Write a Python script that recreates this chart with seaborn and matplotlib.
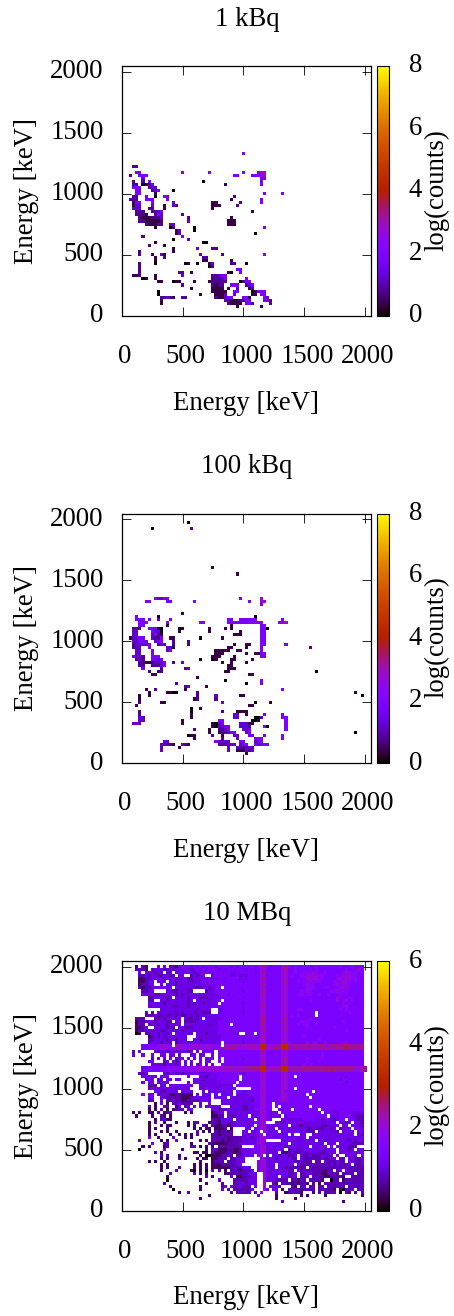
import numpy as np
import pandas as pd
import matplotlib
matplotlib.use("Agg")
import matplotlib.pyplot as plt
from matplotlib.colors import ListedColormap
from matplotlib.transforms import ScaledTranslation
import seaborn as sns

W, H = 454, 1316
titles = ["1 kBq", "100 kBq", "10 MBq"]
ticks_kev = [0, 500, 1000, 1500, 2000]
cbar_max = [8, 8, 6]
cbar_ticks = [[0, 2, 4, 6, 8], [0, 2, 4, 6, 8], [0, 2, 4, 6]]
axis_label = "Energy [keV]"
cbar_label = "log(counts)"
bin_kev = 25
xmax_kev = 2046

levels_sparse = {"0": 0.0, "1": 0.35, "2": 0.8, "3": 1.2, "4": 1.85, "5": 2.9}
levels_dense = {"0": 0.0, "1": 0.4, "2": 0.75, "3": 1.1, "4": 1.4, "5": 1.7,
                "6": 2.05, "7": 2.4, "8": 2.8, "9": 3.2}

# row | col:levels  (bin indices, bin width 25 keV)
cells_1kbq = """53|40:4
49|4:22
47|5:44 20:4 29:4 40:4 45:455
46|3:2 6:444 37:44 43:44455
45|7:3 46:44
44|4:2 7:2 9:4 27:0 46:4
43|4:22 7:01 9:24 34:1 46:4
42|4:444 9:233
41|5:44 10:234 17:0
40|5:44 11:1 47:4 53:4
39|4:22 8:4 11:0 14:44 37:2
38|3:222 8:444 15:4 36:1 46:4
37|4:144 10:4 17:3 30:11 39:2 46:4
36|4:133 10:3 14:1 17:32 30:111 38:2
35|4:333 9:22 14:1 30:1
34|5:222 10:223 13:4 43:1
33|5:2221 11:243 20:2
32|6:211 9:12223 22:2 36:1
31|6:22111112 22:3 35:111
30|8:211122 16:33 35:111
29|11:1 16:02 24:0 47:4
28|18:13 24:0
27|18:13 44:0
26|7:2 20:4
25|17:0 22:3
24|11:1 27:00
23|9:2 14:1
22|17:1 25:3 30:22
21|6:2 17:1
20|6:2 10:1 13:31 26:3 33:2 47:4
19|11:1 14:2 27:22
18|11:1 27:11 36:1
17|6:2 11:0 21:01 25:0 29:13 36:22 41:0
16|6:2 29:02
15|6:2 38:44
14|6:2 19:22 23:1 35:10 39:4
13|4:112 11:1 20:3 30:22344
12|7:01 11:1 30:22234 41:4
11|12:11 17:011 24:1 29:122222 39:0 40:244
10|20:2 30:2122 36:444 41:234
9|23:1 30:1111 35:1 38:3 42:12
8|12:0 30:11111 37:44 43:01 45:444
7|12:0 26:1 31:1113 37:3 43:11 46:44
6|13:22321 20:22 31:211344 40:441 47:43
5|13:1 34:321112244 47:442
4|13:1 35:21111 41:442 49:2
3|38:1 46:1""".split("\n")

cells_100kbq = """79|22:0
77|10:0 23:2
64|30:1
62|38:1
54|11:43344 39:4 46:5
53|8:44 15:44 24:4 42:4 46:55
52|46:4
49|20:1
48|5:4 12:0 44:0
47|5:444 9:4 12:3 16:4 35:44 39:444444 53:4
46|6:444 15:4 26:44 35:444444444445 52:455
45|6:44 15:1 36:1 46:44
44|4:222 9:44410 19:01 29:1 34:1 36:1 46:44 48:0
43|4:33 10:4330 19:1 29:1 39:1 46:44
42|4:33 10:3421 37:111 46:44
41|3:13344 10:3224 16:11 26:0 33:1 46:44
40|4:33443 11:344 17:2 22:2 46:44
39|4:233334 12:233 17:2 22:2 37:1 41:11 46:44 54:4
38|4:233 9:4 15:331 35:11 41:1 46:4 62:2
37|5:33 10:4 15:34 31:11111 38:11 46:4
36|5:33 10:4 31:111 41:1 44:11 46:44
35|4:4332 10:444 30:111 37:1 46:44
34|5:232 10:4434 26:0 30:01 36:11 43:1
33|6:22112 11:3334 17:2 20:3 33:1 36:1 41:1
32|6:22 10:22234 35:11
31|7:4 13:2 21:23 35:111
30|9:2 12:12 34:11 64:0
29|10:11 42:11
28|25:1
27|34:0 46:4
26|18:2 41:0 46:4
25|21:23 28:1
24|8:1 11:2 21:1 53:4
23|9:1 15:1100 25:2 77:1
22|6:1 9:1 25:2 31:3 39:11 79:0
21|6:1 24:12 31:2
20|6:2 13:11 33:3 44:0 49:1
19|5:1 42:11
18|23:0 26:1
17|6:2 23:0 33:2 38:1111
16|6:2 23:1 37:33 41:1 47:4 53:4
15|6:33 23:1 37:33 44:003 53:44
14|6:33 20:1 32:44 43:001 54:4
13|4:333 20:1 30:10 32:34 39:33311 54:4
12|30:103344 39:3332 47:40 54:4
11|24:2 29:1 32:2234 40:334 54:4
10|29:1 32:122344 41:34 77:0
9|22:011 30:2 33:1 37:33 42:44 47:4 53:4
8|24:1 33:2 38:3 44:444 53:4
7|14:33 31:43333 39:44 44:344
6|13:33221 20:321 32:322333 39:344 44:43444
5|13:3 19:1 35:3 38:322332
4|13:3 35:3 38:111323
3|41:1""".split("\n")

# 10 MBq grid: row | ten-bin groups, from bin 0 to bin 80
rows_10mbq = """
80|.....1.21. ..3.3.2213 4443434344 4344443434 4445456743 4446754544 4444544444 4454445444 .
79|.....2221. 2333223233 3432343434 4434344444 4344446644 4446744544 4454544444 4444544464 .
78|......3.33 3232.32.33 3343233444 3444443344 4444346744 4446644544 5556544544 4445655544 .
77|......2232 33223322.3 3..23234.. 3444443343 3344446634 4446645445 5666655444 4556665544 .
76|......1122 3333233323 3322333334 3344344443 4344447644 4446644444 5666655444 4565665544 .
75|......1123 3.333.3323 3322333444 3444444444 3444446644 4446744454 5565554444 5556654544 .
74|......1223 3..3.33323 3333333344 4344444444 4444447643 4446644444 5655444444 5656554444 .
73|......2122 3333333.33 3333222332 344.444444 4444446644 4446644444 4555444554 4456654444 .
72|.......223 3....33223 3322....23 3444444444 3444446744 4446644445 5654444445 5655544444 .
71|.......333 3223333323 2333333333 3344434444 4444447644 4446644455 5554454454 4455544444 .
70|.........2 2333323.33 3323332223 3334444344 4444446644 4446644444 4444444444 4654455444 .
69|.........2 2..3323333 3323.33333 334.444444 4444446644 4446644444 4454444444 4645645444 .
68|.........3 3333233333 3323233233 33.4444444 3444446744 4446644444 4444444444 4445454444 .
67|.........3 3333333223 3323333333 3344444444 3444447644 4446644444 4444444444 4445644444 .
66|.......... ...3333333 3333323333 ..33444444 3444446644 4446644455 4444444444 4454544444 .
65|........2. 2.33333323 2333233222 ..33444444 3444446644 4446644444 4444.44444 4444454444 .
64|........22 2322322323 2232323333 3344444444 4444446744 4446645454 4444.44444 4444444444 .
63|.....222.. .223233333 .322323.33 3334444444 4444447744 4446744444 4454444444 4444444444 .
62|.....12223 3233322.33 .222233333 3344344444 4444447744 4447644445 5544544444 4445444444 .
61|.....122.2 3323323333 .333333332 334444.444 4444447644 4446644454 5544544444 4444444444 .
60|.....1123. .3333222.3 3222333333 3344444444 4444446744 4446744444 4544444444 5444444444 .
59|.....12233 2332233323 2333333333 3344444444 4444446744 4446644444 4444444444 4444544444 .
58|.....01.22 3323323.33 3323.33323 334444433. .444.46644 4446644444 4444444444 4444444444 .
57|.........1 2323233333 33...33333 3334444444 4444447744 4446644444 5444444444 4444444444 .
56|.........2 2333323323 33..332333 3334444444 3444446644 4446644444 4444454444 4444444444 .
55|.........2 3332332.23 3333333333 333.444444 3444446644 4446654444 4545544544 4445544444 .
54|.......445 5456665.66 6556666566 555.666766 6667669966 6769966767 7677677667 7777877777 .
53|.......445 5556665666 6666666666 5556777766 6667669966 6869976776 7767677776 7777877777 .
52|....2.3... .323323323 3323.3.344 3.44444444 4444447644 4446644444 4444445444 4444444444 .
51|....3..3.. 3..33.33.3 ...33.33.. 3.44444444 4444446644 4446644444 4444445444 4444444444 .
50|.......... 2.3.3.3.23 3.3.3.3.33 3.4.444444 3444446644 4446744444 4544445444 4444444444 .
49|.........3 3...23.323 .3.3..3.33 ..4.444444 4444446744 4447644444 4544454444 4444444444 .
48|.......... 3333233323 .3.3.23.3. 3..4444444 4444447644 4446644444 5454444444 4444444444 .
47|.......334 4444455555 5565566666 6666676666 6777779966 6769966767 7777777777 7777777667 7
46|.......444 4444455555 5556566666 6666666667 7667679966 7679967767 7777777878 7777777667 7
45|......223. ....323323 2333333333 3444444444 3444446644 4446644444 4444444444 4444444444 .
44|.......333 33.333.... ..3...3323 434444444. 4444446644 4446644.44 4444444444 4444344444 .
43|........33 3.33.33.33 ....333233 334444444. 4444446644 4446644444 4444444444 4434444444 .
42|.......3.3 3.3333.... ..3.333333 33344444.4 4444446644 4446644444 4444444444 4444344444 .
41|.........2 22.33.3333 3333..3333 3333333.44 4444446644 4446644444 4444444444 4444444444 .
40|.........3 3333333323 333...3343 33344334.. ...4446644 4446644.44 4444444444 4444444444 .
39|.......... .33223333 3333...3.33 3333333.44 3344446644 4447444444 444.444444 4444444444 .
38|.......4.3 3.33331122 1111.3.333 .3.3333.33 3344446644 4446644444 4.44444444 4444444444 .
37|.........3 3..3222222 1112333333 .3333.3333 3333446644 4446644444 44.4444444 4444444444 .
36|.........2 2..3.22322 1122223333 ...3333333 3332446644 4447644444 4444444444 4444444444 .
35|.......... .1.3.1.223 2222..3..3 ...3333333 3334446644 .444344444 4444444444 4444444444 .
34|.........2 .1..22..13 .22.3.3.33 333...3333 2233446644 .4.4444444 44.4444444 4444444444 .
33|.........1 .1.2.1.122 2.33...... 3322233333 2233446644 ..3344.444 44444.4444 4444444444 .
32|....1.1..1 1.2.122... .1.1...... 1233.33333 3333336643 33.4444444 444444.344 3344443333 .
31|.....1.... 1..21.1... .......... 1122.32233 33.3336643 333.344444 44444444.3 3344443322 .
30|.......... .1.2211... .......... 2213333.33 3334.46643 ...3333333 4444333333 2344.44322 .
29|.........1 .2..1...1. ..1.22...1 2213322333 33334466.. .332333344 3333333333 3.3323.332 .
28|.........1 ...1.11... ..1.1..21. 2112212333 3334.46633 33333.3322 3333332233 33.33.3332 .
27|.........1 .1...1.... ....1.1.11 .1112.1... .33.346633 3.33333333 3223222332 3.2333.333 .
26|.........1 ...1.1..1. .....2.1.1 .212212... 33.334.633 33.3333333 3222.33333 32.3333.33 .
25|.........1 .1....1..1 .1.1.2.... 2212222... 3333346.33 33333.3..3 3..3333333 3333333.32 .
24|.........3 ..1....3.. .1.1...... 2222212222 3332346633 3333333333 3.33333333 3333333333 .
23|......2... ...1.1..3. ......1.1. 2221212222 33333466.. ...3333333 3333.33233 3333323233 .
22|.......... 3...22.... ...1.....2 1111122223 3333366333 33333.3333 3333333.33 3.33332222 .
21|.......1.1 ....12.... ...22.1.1. 1.22222222 ....446633 3333233333 33.33333.33 .3333222 .
20|......0... ....3..... 1.......1. 2211122112 3334446633 3333.23323 3333333233 3.33323.33 .
19|.......... .2.1...... ....11.11. 2111122112 3333346633 33.1123222 3233322233 3.33333333 .
18|.......... ...2.2...1 ......1.00 1112222.22 3333.46.3. 33233223.3 2232223323 .3..3333.3 .
17|.......... ...1.1...2 .1...1.11. 11222.2233 3.....6633 32333322.3 2222223223 3.22.33223 .
16|.........1 .1..1..... ......1... 1222.22233 3....46633 33333332233 222.22.322 2322.33223 .
15|.......... ...1.1.... ....1.1.1. 1112222233 .....46633 3.33333.32 2223222223 232223.223 .
14|.......... ...1.1...2 ....1.1.1. 1111112222 333..46633 3.33222222 2.32222222 2222322222 .
13|.......... ...1....2. ...10.1.0. 2.2.1.2221 2223.36633 3333322.32 3222222122 .23.322222 .
12|.......... ......2... ....2.1.1. ....112222 22333..633 33333223.2 2332221122 22.2222.22 .
11|.......... .....1.... ........2. 1.....3.11 22233..633 33.33223.2 22.2222112 2221..2222 .
10|.......... .....0.... ......1... ..3....222 22333..633 32222.2212 2.22221..0 22.1222222 .
9|.......... ....2..... ........1. ...2...223 32333..6.. 21.2221212 21.2.1.222 2222222222 .
8|.......... ......1... ......1... ...23.3223 222.3..6.3 332...21.2 2.22.22.22 2222.22222 .
7|.......... .......0.. ......1... ...3.2.222 2223...63. 33.1.22221 2222.22222 1.10222.22 .
6|.......... .........1 ..2....... ......2.22 222.2.6... .2..122221 ...1.2.222 2.0.21.2.2 .
5|.......... .......... .........1 .......... .....3.... .1.......1 .1.....1.. .........1 .
4|.......... .......... ......1... .......... .......... .1.....1.. .......... .......... .
3|.......... .......... .......... .......... .......... ...2...... ......... ...1...... .
""".strip().split("\n")


def expand_sparse(lines, mapping):
    grid = np.full((81, 81), np.nan)
    for line in lines:
        row, parts = line.split("|")
        for part in parts.split():
            col, vals = part.split(":")
            for k, ch in enumerate(vals):
                grid[int(row), int(col) + k] = mapping[ch]
    return grid


def expand_dense(lines, mapping):
    grid = np.full((81, 81), np.nan)
    for line in lines:
        row, body = line.split("|")
        groups = body.split()
        s = "".join(g.ljust(10, ".")[:10] for g in groups[:8]) + (groups[8] if len(groups) > 8 else ".")
        for c, ch in enumerate(s[:81]):
            if ch != ".":
                grid[int(row), c] = mapping[ch]
    return grid


x = np.linspace(0, 1, 256)
palette = np.clip(np.column_stack([np.sqrt(x), x ** 3, np.sin(2 * np.pi * x)]), 0, 1)
cmap = ListedColormap(palette)

sns.set_theme(style="white")
plt.rcParams["font.family"] = ["Liberation Serif", "DejaVu Serif"]

grids = [expand_sparse(cells_1kbq, levels_sparse),
         expand_sparse(cells_100kbq, levels_sparse),
         expand_dense(rows_10mbq, levels_dense)]
tops = [66, 513.5, 961]
box_h = 249.5
left, right = 121.7, 370.7
cleft, cright = 377.3, 389.3
fs = 19.3

fig = plt.figure(figsize=(W / 100, H / 100), dpi=100)
for grid, title, vmax, cticks, top in zip(grids, titles, cbar_max, cbar_ticks, tops):
    ax = fig.add_axes([left / W, 1 - (top + box_h) / H, (right - left) / W, box_h / H])
    cax = fig.add_axes([cleft / W, 1 - (top + box_h) / H, (cright - cleft) / W, box_h / H])
    df = pd.DataFrame(grid)
    sns.heatmap(df, ax=ax, cbar_ax=cax, cmap=cmap, vmin=0, vmax=vmax, mask=df.isna(),
                xticklabels=False, yticklabels=False, square=False)
    lim = (0.5, 0.5 + xmax_kev / bin_kev)
    ax.set_xlim(*lim)
    ax.set_ylim(*lim)
    pos = [t / bin_kev + 0.5 for t in ticks_kev]
    ax.set_xticks(pos)
    ax.set_yticks(pos)
    ax.set_xticklabels([str(t) for t in ticks_kev])
    ax.set_yticklabels([str(t) for t in ticks_kev])
    ax.tick_params(axis="both", direction="in", length=6.5, width=0.6, color="black",
                   top=True, right=True, bottom=True, left=True, labelsize=fs,
                   labelcolor="black")
    ax.tick_params(axis="x", pad=20.5)
    ax.tick_params(axis="y", pad=13)
    for lab in ax.get_xticklabels():
        lab.set_transform(lab.get_transform() + ScaledTranslation(3 / 100, 0, fig.dpi_scale_trans))
    for lab in ax.get_yticklabels():
        lab.set_transform(lab.get_transform() + ScaledTranslation(0, 3 / 100, fig.dpi_scale_trans))
    for sp in ax.spines.values():
        sp.set_visible(True)
        sp.set_linewidth(0.9)
        sp.set_color("black")
    fig.text(246 / W, 1 - (top + box_h + 87.5) / H, axis_label, fontsize=fs, color="black", ha="center", va="center")
    fig.text(27 / W, 1 - (top + box_h / 2) / H, axis_label, fontsize=fs, color="black", ha="center", va="center",
             rotation=90)
    fig.text(247 / W, 1 - (top - 47) / H, title, fontsize=fs, color="black", ha="center", va="center")
    cb = ax.collections[0].colorbar
    cb.set_ticks(cticks)
    cb.ax.tick_params(axis="y", direction="in", length=8.6, width=0.7, color="black",
                      labelsize=fs, pad=14, labelcolor="black", right=True, left=False)
    for lab in cb.ax.get_yticklabels():
        lab.set_transform(lab.get_transform() + ScaledTranslation(0, 3 / 100, fig.dpi_scale_trans))
    cb.outline.set_visible(True)
    cb.outline.set_linewidth(0.8)
    cb.outline.set_edgecolor("black")
    fig.text(437 / W, 1 - (top + box_h / 2 - 1) / H, cbar_label, fontsize=fs, color="black", ha="center", va="center",
             rotation=90)

fig.savefig("out.png", dpi=100)
